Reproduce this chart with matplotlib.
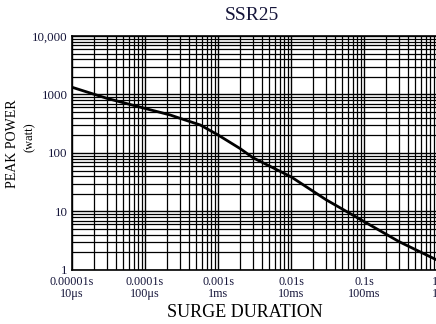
import matplotlib
matplotlib.use("Agg")
import matplotlib.pyplot as plt
import numpy as np

# surge duration (s) vs peak power (W)
duration = [1e-5, 3e-5, 1e-4, 2.2e-4, 3e-4, 5.7e-4, 1e-3, 2e-3, 3e-3,
            1e-2, 3e-2, 1e-1, 3e-1, 1.0]
power = [1330, 860, 577, 447, 392, 301, 203, 119, 83,
         39, 15.9, 6.7, 3.05, 1.47]

xticks = [1e-5, 1e-4, 1e-3, 1e-2, 1e-1, 1.0]
xlabels = ["0.00001s\n10\u03bcs", "0.0001s\n100\u03bcs", "0.001s\n1ms",
           "0.01s\n10ms", "0.1s\n100ms", "1s\n1s"]
yticks = [1, 10, 100, 1000, 10000]
ylabels = ["1", "10", "100", "1000", "10,000"]

plt.rcParams['font.family'] = ['Liberation Serif', 'DejaVu Serif']
txt = "#15153a"

fig = plt.figure(figsize=(4.36, 3.24), dpi=100)
ax = fig.add_axes([0.165, 0.1667, 0.838, 0.7223])

ax.set_xscale("log")
ax.set_yscale("log")
ax.set_xlim(1e-5, 1.0)
ax.set_ylim(1, 10000)

ax.grid(True, which="major", color="black", lw=1.0)
ax.grid(True, which="minor", color="black", lw=0.9)

ax.plot(duration, power, color="black", lw=2.0, solid_capstyle="round",
        solid_joinstyle="round")

ax.set_xticks(xticks)
ax.set_xticklabels(xlabels, fontsize=8.7, color=txt, linespacing=1.0)
ax.set_yticks(yticks)
ax.set_yticklabels(ylabels, fontsize=9.3, color=txt)
ax.tick_params(which="both", length=0, pad=3)
ax.tick_params(axis="x", pad=4)

for s in ax.spines.values():
    s.set_color("black")
    s.set_linewidth(1.2)

fig.text(0.578, 0.951, "SSR25", ha="center", va="center", fontsize=14, color=txt)
fig.text(0.562, 0.036, "SURGE DURATION", ha="center", va="center", fontsize=13, color="black")
fig.text(0.029, 0.556, "PEAK POWER", rotation=90, ha="center", va="center", fontsize=10, color="black")
fig.text(0.069, 0.577, "(watt)", rotation=90, ha="center", va="center", fontsize=9, color="black")

fig.savefig("out.png", dpi=100)
